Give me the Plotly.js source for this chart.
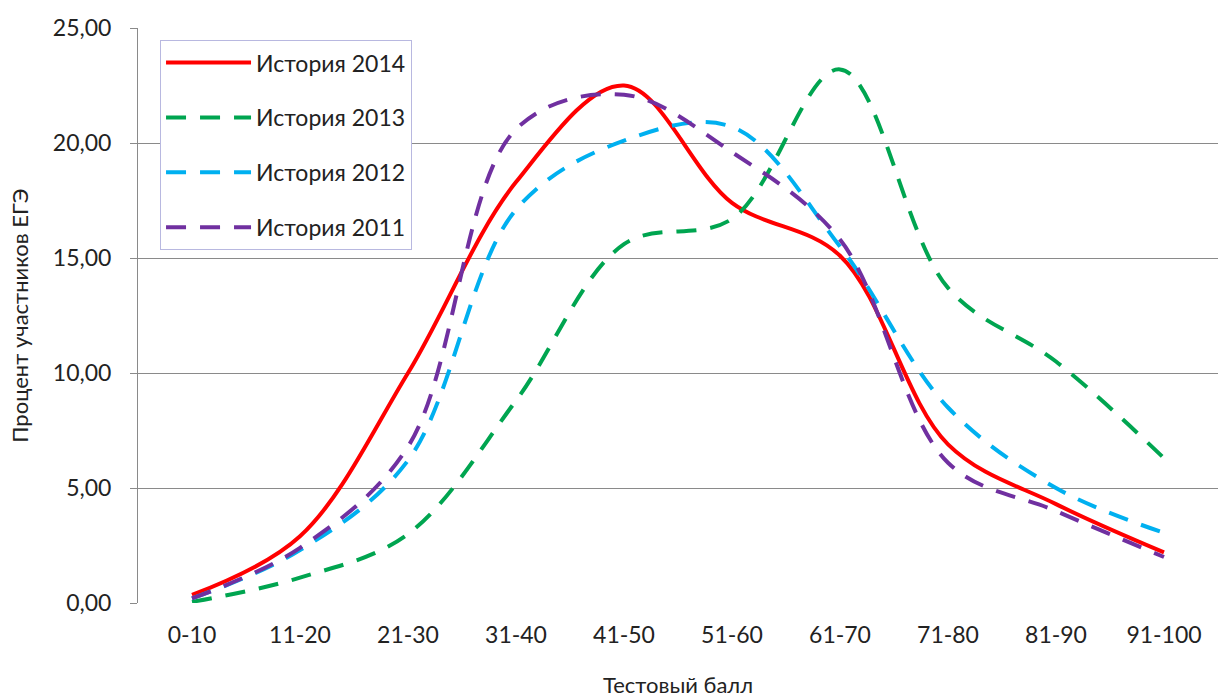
<!DOCTYPE html>
<html><head><meta charset="utf-8">
<script src="https://cdn.plot.ly/plotly-3.0.1.min.js"></script>
<style>html,body{margin:0;padding:0;background:#fff}#chart{width:1219px;height:698px}</style>
</head><body><div id="chart"></div>
<script>
var categories = ["0-10","11-20","21-30","31-40","41-50","51-60","61-70","71-80","81-90","91-100"];
var hist2014 = [0.35, 2.9, 10.0, 18.3, 22.5, 17.4, 15.1, 6.9, 4.3, 2.2];
var hist2013 = [0.05, 1.1, 3.0, 8.8, 15.6, 16.7, 23.2, 13.7, 10.5, 6.3];
var hist2012 = [0.2, 2.3, 6.2, 17.1, 20.1, 20.7, 15.5, 8.5, 5.0, 3.05];
var hist2011 = [0.2, 2.4, 6.8, 20.6, 22.1, 19.6, 15.8, 6.1, 4.0, 2.0];
var seriesNames = ["История 2014","История 2013","История 2012","История 2011"];

var font = "Lato, 'Open Sans', sans-serif";
function tr(y, name, color, dash, g) {
  return {x: categories, y: y, name: name, type: "scatter", mode: "lines",
    legendgroup: g,
    line: {color: color, width: 4, shape: "spline", smoothing: 1, dash: dash}};
}
var data = [
  tr(hist2014, seriesNames[0], "#FF0000", "solid", "a"),
  tr(hist2013, seriesNames[1], "#00A550", "20px,14px", "b"),
  tr(hist2012, seriesNames[2], "#00B0F0", "20px,14px", "c"),
  tr(hist2011, seriesNames[3], "#7030A0", "20px,14px", "d")
];
var layout = {
  width: 1219, height: 698,
  margin: {l: 138, r: 1, t: 28, b: 95},
  paper_bgcolor: "#fff", plot_bgcolor: "#fff",
  separators: ", ",
  font: {family: font, size: 23, color: "#222"},
  showlegend: true,
  legend: {x: 0.0204, y: 0.979, xanchor: "left", yanchor: "top",
    bgcolor: "#ffffff", bordercolor: "#b8b8e0", borderwidth: 1,
    font: {family: font, size: 23, color: "#222"},
    itemwidth: 85,
    traceorder: "grouped", tracegroupgap: 22},
  xaxis: {type: "category", range: [-0.5, 9.5], showgrid: false, zeroline: false,
    showline: false, ticks: "", ticklabelstandoff: 16,
    tickfont: {family: font, size: 23, color: "#222"},
    title: {text: "Тестовый балл", font: {family: font, size: 22, color: "#222"}, standoff: 30}},
  yaxis: {range: [0, 25], dtick: 5, tickformat: ".2f", showgrid: true, gridcolor: "#8a8a8a", gridwidth: 1,
    zeroline: false, showline: true, linecolor: "#8a8a8a", linewidth: 1,
    ticks: "outside", ticklen: 7, tickcolor: "#8a8a8a", ticklabelstandoff: 14,
    tickfont: {family: font, size: 23, color: "#222"},
    title: {text: "Процент участников ЕГЭ", font: {family: font, size: 22, color: "#222"}, standoff: 18}}
};
Plotly.newPlot("chart", data, layout, {displayModeBar: false, staticPlot: true});
</script></body></html>
